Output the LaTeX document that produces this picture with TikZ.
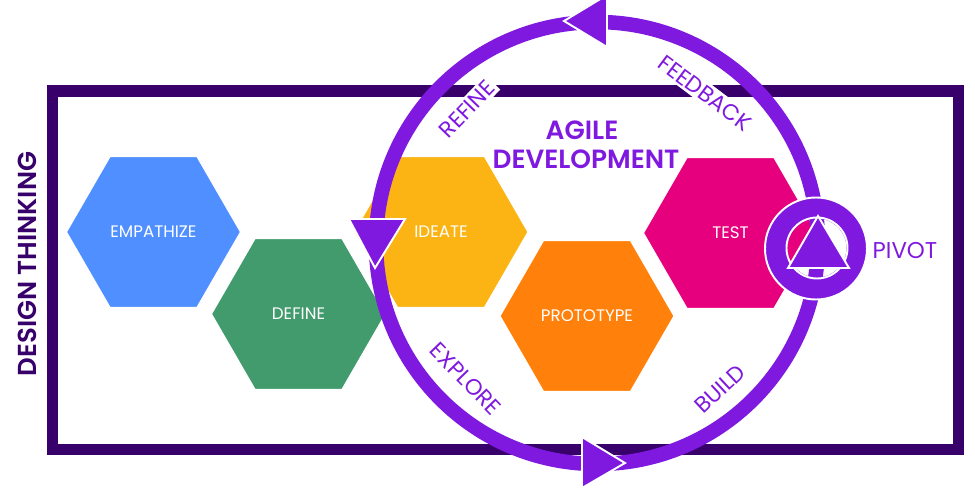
\documentclass[tikz,border=0pt]{standalone}
\usepackage{fontspec}
\setmainfont{Poppins}
\newfontfamily\headfont{Poppins SemiBold}
\usetikzlibrary{shapes.geometric}
\definecolor{ringpurple}{HTML}{7F19DF}
\definecolor{framepurple}{HTML}{37006A}
\definecolor{hexblue}{HTML}{4F8FFF}
\definecolor{hexgreen}{HTML}{429B6C}
\definecolor{hexyellow}{HTML}{FBB413}
\definecolor{hexorange}{HTML}{FF800B}
\definecolor{hexpink}{HTML}{E6007E}
\begin{document}
\begin{tikzpicture}[x=0.02cm,y=-0.02cm,
    hexbox/.style={regular polygon,regular polygon sides=6,minimum size=3.48cm,inner sep=0pt,outer sep=0pt,
        draw=white,line width=0.6pt,text=white,font=\fontsize{9.5}{11}\selectfont},
    ringlabel/.style={text=ringpurple,fill=white,inner sep=1.5pt,font=\fontsize{12.7}{14}\selectfont},
    headlabel/.style={text=ringpurple,inner sep=0pt,font=\fontsize{15}{17}\headfont},
    arrowhead/.style={fill=ringpurple,draw=white,line width=1.1pt,line join=miter}]
\clip (0,0) rectangle (975,494);

\draw [framepurple,line width=6.4pt] (52.5,91) rectangle (958.5,449.5);

\node [hexbox,fill=hexblue]   (empathize) at (153.5,232) {EMPATHIZE};
\node [hexbox,fill=hexyellow] (ideate)    at (441,232)   {IDEATE};
\node [hexbox,fill=hexgreen]  (define)    at (298.5,314) {DEFINE};
\node [hexbox,fill=hexpink]   (test)      at (730.5,233) {TEST};
\node [hexbox,fill=hexorange] (prototype) at (587,316)   {PROTOTYPE};

\node [ringlabel,rotate=46]  (refine)   at (467,109) {REFINE};
\node [ringlabel,rotate=-37] (feedback) at (705,93)  {FEEDBACK};
\node [ringlabel,rotate=-46] (explore)  at (466,379) {EXPLORE};
\node [ringlabel,rotate=43]  (build)    at (720,389) {BUILD};

\draw [ringpurple,line width=8.3pt] (597,243) circle (221);

\filldraw [arrowhead] (607,-5) -- (564,21) -- (607,47) -- cycle;
\filldraw [arrowhead] (582,437) -- (625,463) -- (582,488) -- cycle;
\filldraw [arrowhead] (349,219) -- (405,219) -- (375,268) -- cycle;

\fill [ringpurple,even odd rule] (816,248.5) circle (50.5) (817,248) circle (29.5);
\draw [white,line width=1.1pt] (816,248.5) circle (51);
\draw [white,line width=1.1pt] (817,248) circle (30.5);
\filldraw [arrowhead] (818,216) -- (788,268) -- (849,268) -- cycle;

\node [headlabel] (agile) at (582,130) {AGILE};
\node [headlabel] (development) at (586,159) {DEVELOPMENT};
\node [text=ringpurple,inner sep=0pt,font=\fontsize{13}{15}\selectfont] (pivot) at (905,251) {PIVOT};
\node [text=framepurple,inner sep=0pt,rotate=90,font=\fontsize{14.8}{17}\headfont] (thinking) at (27,264) {DESIGN THINKING};
\end{tikzpicture}
\end{document}
